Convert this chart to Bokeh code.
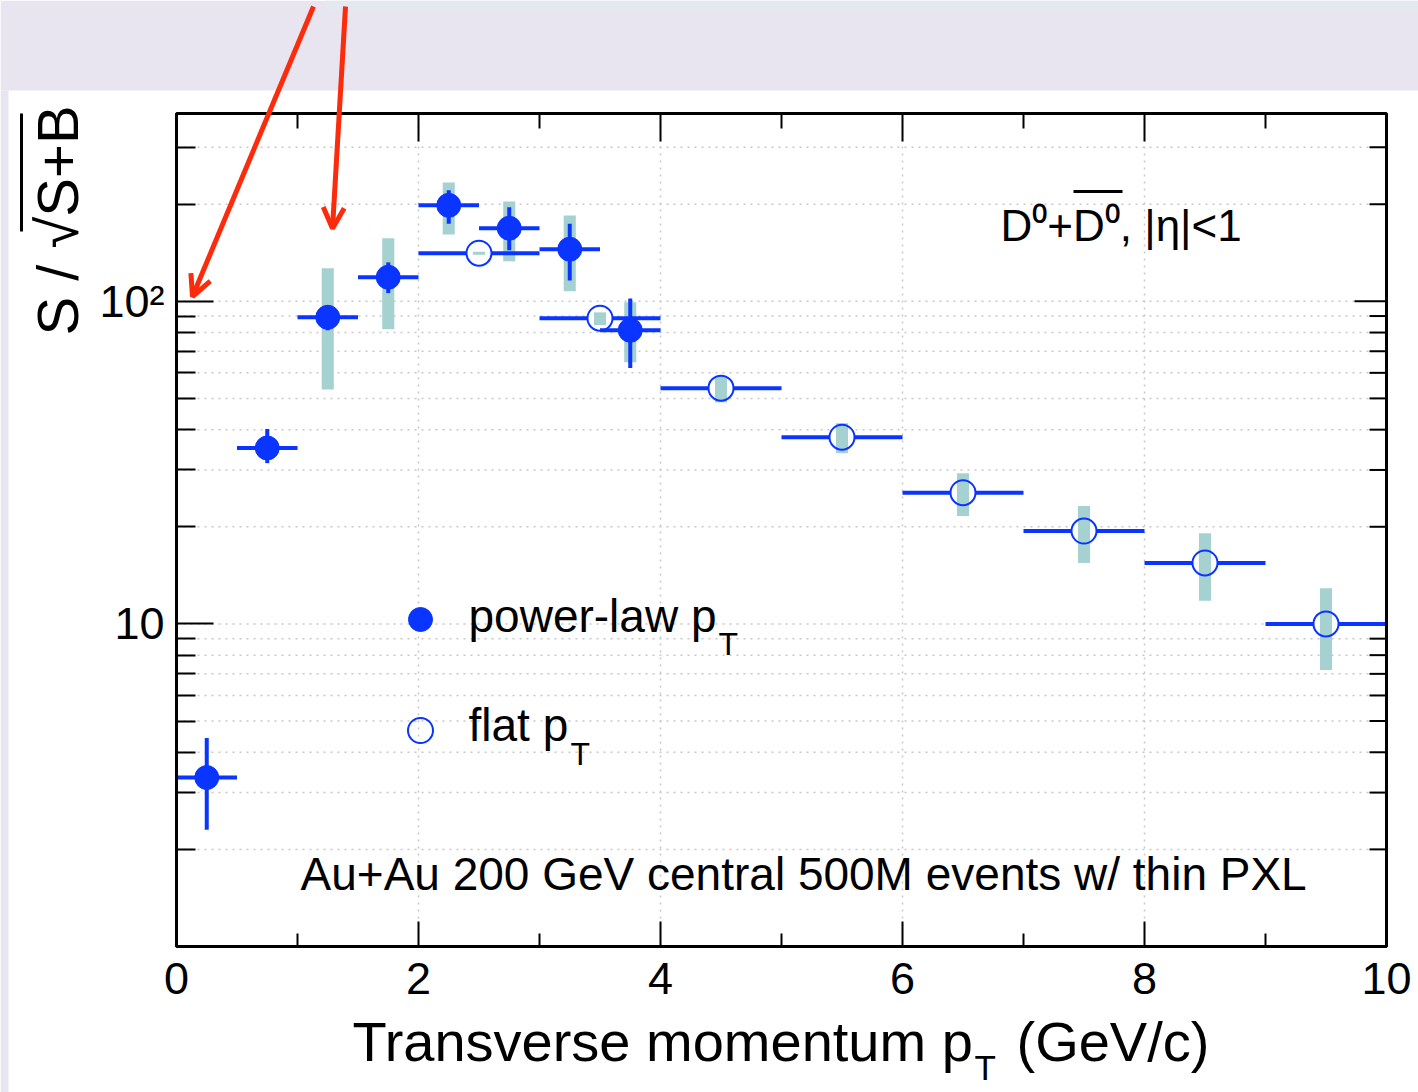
import math
from bokeh.plotting import figure
from bokeh.models import (Range1d, FixedTicker, Label, Arrow, OpenHead, BoxAnnotation)
from bokeh.embed import file_html
from bokeh.resources import INLINE

# ---------------- data ----------------
power_x = [0.25, 0.75, 1.25, 1.75, 2.25, 2.75, 3.25, 3.75]
power_xerr = [0.25, 0.25, 0.25, 0.25, 0.25, 0.25, 0.25, 0.25]
power_y = [3.34, 35.1, 89.2, 118.7, 198.3, 168.4, 145.0, 81.3]
power_stat_lo = [2.30, 31.5, 81.3, 106.0, 174.0, 143.9, 116.0, 62.1]
power_stat_hi = [4.43, 40.2, 97.2, 132.0, 221.0, 195.5, 174.0, 102.0]
power_sys_lo = [3.34, 35.1, 53.3, 81.9, 161.0, 133.0, 107.4, 64.7]
power_sys_hi = [3.34, 35.1, 126.5, 156.7, 233.5, 204.0, 184.6, 99.3]

flat_x = [2.5, 3.5, 4.5, 5.5, 6.5, 7.5, 8.5, 9.5]
flat_xerr = [0.5, 0.5, 0.5, 0.5, 0.5, 0.5, 0.5, 0.5]
flat_y = [140.9, 88.6, 53.8, 37.9, 25.5, 19.4, 15.45, 10.0]
flat_sys_lo = [139.5, 84.3, 48.6, 33.8, 21.6, 15.45, 11.8, 7.2]
flat_sys_hi = [142.5, 92.4, 58.6, 41.9, 29.3, 23.2, 19.1, 12.9]

x_major = [0, 2, 4, 6, 8, 10]
x_minor = [1, 3, 5, 7, 9]
y_major = [10, 100]
y_minor = [2, 3, 4, 5, 6, 7, 8, 9, 20, 30, 40, 50, 60, 70, 80, 90, 200, 300]
y_labels = {10: "10", 100: "10²"}

# ---------------- style ----------------
BLUE = "#0a34ff"
TEAL = "#a6d1d1"
RED = "#fb2b0c"
LAV = "#e9e5f0"
GRID = "#c8c8c8"
FONT = "Liberation Sans"

W, H = 1418, 1092
# plot box (pixels) inside the slide picture
FL, FR, FT, FB = 176, 1386, 113, 946
X0, X1 = 0.0, 10.0
Y0, Y1 = 1.0, 382.0


def dx(px):
    return X0 + (px - FL) / (FR - FL) * (X1 - X0)


def dy(py):
    l0, l1 = math.log10(Y0), math.log10(Y1)
    return 10 ** (l0 + (FB - py) / (FB - FT) * (l1 - l0))


# the frame covers the whole slide; axes are pinned to the plot box
p = figure(width=W, height=H, x_range=Range1d(dx(0), dx(W)),
           y_range=Range1d(dy(H), dy(0)), y_axis_type="log",
           output_backend="svg", toolbar_location=None,
           min_border=0, min_border_left=0, min_border_right=0,
           min_border_top=0, min_border_bottom=0,
           border_fill_color="white", background_fill_color="white",
           outline_line_color=None)
p.grid.visible = False

xt = FixedTicker(ticks=x_major, minor_ticks=x_minor)
yt = FixedTicker(ticks=y_major, minor_ticks=y_minor)

p.xaxis.ticker = xt
p.yaxis.ticker = yt
p.yaxis.major_label_overrides = y_labels

for ax in p.xaxis:
    ax.fixed_location = Y0
    ax.bounds = (X0, X1)
    ax.major_tick_in = 25
    ax.major_tick_out = 0
    ax.minor_tick_in = 13
    ax.minor_tick_out = 0
    ax.major_tick_line_width = 2
    ax.minor_tick_line_width = 2
    ax.axis_line_width = 3
    ax.major_label_text_font = FONT
    ax.major_label_text_font_size = "45px"
    ax.major_label_text_color = "black"
    ax.major_label_standoff = 16

for ax in p.yaxis:
    ax.fixed_location = X0
    ax.bounds = (Y0, Y1)
    ax.major_tick_in = 37
    ax.major_tick_out = 0
    ax.minor_tick_in = 19
    ax.minor_tick_out = 0
    ax.major_tick_line_width = 2
    ax.minor_tick_line_width = 2
    ax.axis_line_width = 3
    ax.major_label_text_font = FONT
    ax.major_label_text_font_size = "45px"
    ax.major_label_text_color = "black"
    ax.major_label_standoff = 12

# ---------------- slide background ----------------
p.add_layout(BoxAnnotation(left=dx(0), right=dx(W), top=dy(0), bottom=dy(90),
                           fill_color=LAV, fill_alpha=1, line_color=None,
                           level="underlay"))
p.add_layout(BoxAnnotation(left=dx(0), right=dx(8), top=dy(90), bottom=dy(H),
                           fill_color=LAV, fill_alpha=1, line_color=None,
                           level="underlay"))
p.add_layout(BoxAnnotation(left=dx(325), right=dx(W), top=dy(0), bottom=dy(10),
                           fill_color="#e3e8f1", fill_alpha=1, line_color=None,
                           level="underlay"))

# dotted grid inside the plot box
all_y = sorted(y_major + y_minor)
p.segment(x0=[X0] * len(all_y), x1=[X1] * len(all_y), y0=all_y, y1=all_y,
          line_color=GRID, line_width=1.5, line_dash="2 5")
p.segment(x0=x_major, x1=x_major, y0=[Y0] * len(x_major), y1=[Y1] * len(x_major),
          line_color=GRID, line_width=1.5, line_dash="2 5")

# mirrored ticks on the top and right edges (ROOT style)
p.segment(x0=x_major, x1=x_major, y0=[Y1] * len(x_major),
          y1=[dy(FT + 28)] * len(x_major), line_color="black", line_width=2)
p.segment(x0=x_minor, x1=x_minor, y0=[Y1] * len(x_minor),
          y1=[dy(FT + 15)] * len(x_minor), line_color="black", line_width=2)
p.segment(x0=[dx(FR - 32)] * len(y_major), x1=[X1] * len(y_major),
          y0=y_major, y1=y_major, line_color="black", line_width=2)
p.segment(x0=[dx(FR - 17)] * len(y_minor), x1=[X1] * len(y_minor),
          y0=y_minor, y1=y_minor, line_color="black", line_width=2)

# ---------------- data marks ----------------
p_lo = [x - e for x, e in zip(power_x, power_xerr)]
p_hi = [x + e for x, e in zip(power_x, power_xerr)]
f_lo = [x - e for x, e in zip(flat_x, flat_xerr)]
f_hi = [x + e for x, e in zip(flat_x, flat_xerr)]

# systematic boxes (power-law)
p.vbar(x=power_x, width=0.1, bottom=power_sys_lo, top=power_sys_hi,
       fill_color=TEAL, line_color=None)
# flat pT
p.segment(x0=f_lo, x1=f_hi, y0=flat_y, y1=flat_y, line_color=BLUE, line_width=4)
p.scatter(x=flat_x, y=flat_y, size=25, marker="circle", fill_color="white",
          line_color=None)
p.vbar(x=flat_x, width=0.1, bottom=flat_sys_lo, top=flat_sys_hi,
       fill_color=TEAL, line_color=None)
p.scatter(x=flat_x, y=flat_y, size=25, marker="circle", fill_color=None,
          line_color=BLUE, line_width=2)
# power-law pT
p.segment(x0=p_lo, x1=p_hi, y0=power_y, y1=power_y, line_color=BLUE, line_width=4)
p.segment(x0=power_x, x1=power_x, y0=power_stat_lo, y1=power_stat_hi,
          line_color=BLUE, line_width=4)
p.scatter(x=power_x, y=power_y, size=24, marker="circle", fill_color=BLUE,
          line_color=BLUE, line_width=1)

# plot box frame
p.add_layout(BoxAnnotation(left=X0, right=X1, bottom=Y0, top=Y1,
                           fill_color=None, fill_alpha=0, line_color="black",
                           line_width=3, line_alpha=1))

# ---------------- legend (manual, ROOT style) ----------------
p.scatter(x=[dx(420)], y=[dy(619)], size=24, marker="circle", fill_color=BLUE,
          line_color=BLUE)
p.scatter(x=[dx(420)], y=[dy(730)], size=25, marker="circle", fill_color=None,
          line_color=BLUE, line_width=2)

SHIFT = 0.37  # baseline correction as a fraction of the font size


def lab(text, px, py, size, **kw):
    p.add_layout(Label(x=dx(px), y=dy(py - SHIFT * size), text=text,
                       text_font=FONT, text_font_size=f"{size}px",
                       text_color="black", text_baseline="alphabetic", **kw))


lab("power-law p", 468, 633, 46)
lab("T", 718, 655, 32)
lab("flat p", 468, 742, 46)
lab("T", 570, 765, 32)

lab("D⁰+D⁰, |η|<1", 1000, 241, 44)
lab("Au+Au 200 GeV central 500M events w/ thin PXL", 300, 891, 46)

# x title
lab("Transverse momentum p", 352, 1062, 56)
lab("T", 974, 1080, 35)
lab("(GeV/c)", 1016, 1062, 56)

# y title (rotated): baseline correction goes along x
p.add_layout(Label(x=dx(78 - SHIFT * 58), y=dy(335), text="S / √S+B",
                   text_font=FONT, text_font_size="58px", text_color="black",
                   text_baseline="alphabetic", text_align="left",
                   angle=math.pi / 2))


def line(x0, y0, x1, y1, color="black", width=3, head=None):
    p.add_layout(Arrow(x_start=dx(x0), y_start=dy(y0), x_end=dx(x1), y_end=dy(y1),
                       line_color=color, line_width=width, end=head))


# overline of the square root and of anti-D0
line(21, 113, 21, 231)
line(1073, 191, 1122, 191, width=3)

# red annotation arrows of the slide
line(313, 6, 192, 296, color=RED, width=5,
     head=OpenHead(size=21, line_color=RED, line_width=5))
line(345, 6, 332, 228, color=RED, width=5,
     head=OpenHead(size=21, line_color=RED, line_width=5))

open("out.html", "w").write(file_html(p, INLINE))
